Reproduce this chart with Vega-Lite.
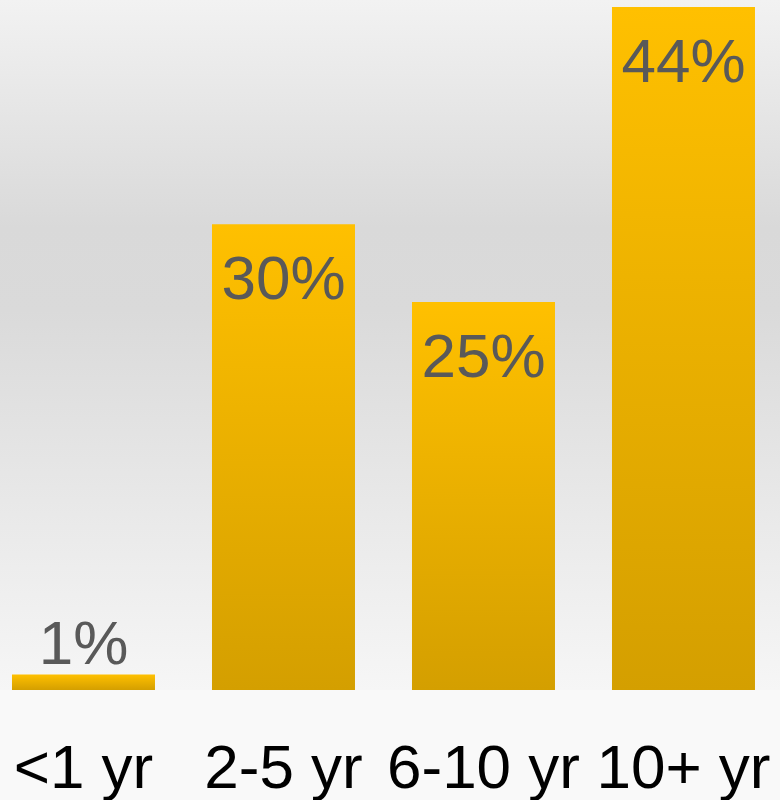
{
  "$schema": "https://vega.github.io/schema/vega-lite/v6.json",
  "width": 780,
  "height": 690,
  "padding": {"left": 0, "top": 0, "right": 0, "bottom": 110},
  "autosize": {"type": "none"},
  "background": "#f9f9f9",
  "view": {
    "stroke": null,
    "fill": {
      "gradient": "linear", "x1": 0, "y1": 0, "x2": 0, "y2": 1,
      "stops": [
        {"offset": 0, "color": "#f2f2f2"},
        {"offset": 0.33, "color": "#d9d9d9"},
        {"offset": 0.45, "color": "#dadada"},
        {"offset": 1, "color": "#f6f6f6"}
      ]
    }
  },
  "config": {"font": "Liberation Sans"},
  "data": {
    "values": [
      {"tenure": "<1 yr", "pct": 0.01},
      {"tenure": "2-5 yr", "pct": 0.30},
      {"tenure": "6-10 yr", "pct": 0.25},
      {"tenure": "10+ yr", "pct": 0.44}
    ]
  },
  "encoding": {
    "x": {
      "field": "tenure", "type": "nominal", "sort": null,
      "scale": {"paddingInner": 0.285, "paddingOuter": 0.0925, "align": 0.324},
      "axis": {
        "title": null, "domain": false, "ticks": false, "labelAngle": 0,
        "labelFontSize": 62, "labelColor": "#000000", "labelFont": "Liberation Sans",
        "labelBaseline": "alphabetic", "labelPadding": 97, "grid": false,
        "labelLimit": 0, "labelOverlap": false
      }
    },
    "y": {
      "field": "pct", "type": "quantitative",
      "scale": {"domain": [0, 0.4445], "nice": false},
      "axis": null
    }
  },
  "layer": [
    {
      "mark": {
        "type": "bar",
        "fill": {
          "gradient": "linear", "x1": 0, "y1": 0, "x2": 0, "y2": 1,
          "stops": [
            {"offset": 0, "color": "#ffc000"},
            {"offset": 1, "color": "#d49f00"}
          ]
        }
      }
    },
    {
      "transform": [{"filter": "datum.pct >= 0.05"}],
      "mark": {"type": "text", "baseline": "alphabetic", "dy": 75, "fontSize": 62, "color": "#595959", "font": "Liberation Sans"},
      "encoding": {"text": {"field": "pct", "type": "quantitative", "format": ".0%"}}
    },
    {
      "transform": [{"filter": "datum.pct < 0.05"}],
      "mark": {"type": "text", "baseline": "alphabetic", "dy": -10, "fontSize": 62, "color": "#595959", "font": "Liberation Sans"},
      "encoding": {"text": {"field": "pct", "type": "quantitative", "format": ".0%"}}
    }
  ]
}
